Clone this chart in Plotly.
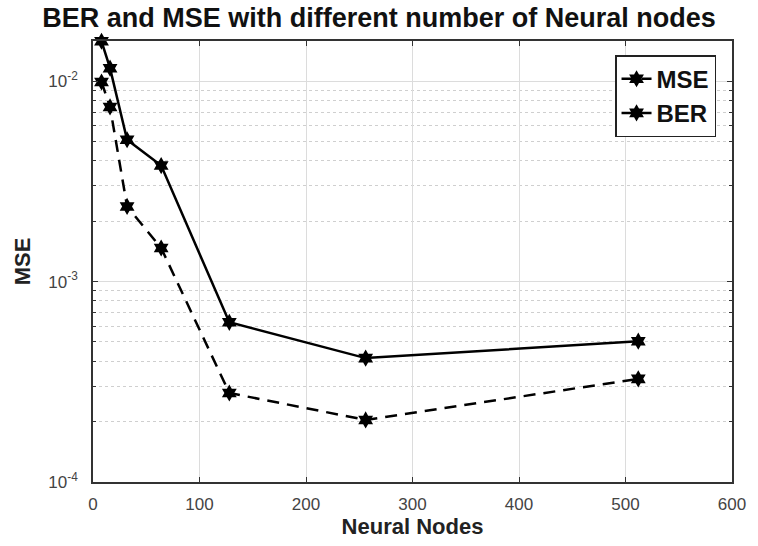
import plotly.graph_objects as go

# Number of neurons in the hidden layer
nodes = [8, 16, 32, 64, 128, 256, 512]
# Mean squared error per configuration
mse = [0.0099, 0.00743, 0.00237, 0.00147, 0.000278, 0.000204, 0.000327]
# Bit error rate per configuration
ber = [0.0158, 0.0116, 0.00510, 0.00379, 0.000626, 0.000415, 0.000504]

y_ticks = [1e-4, 1e-3, 1e-2]
y_tick_text = ["10<sup>-4</sup>", "10<sup>-3</sup>", "10<sup>-2</sup>"]
y_minor = [m * 10.0 ** e for e in (-4, -3, -2) for m in range(2, 10)]
x_ticks = [0, 100, 200, 300, 400, 500, 600]

FONT = "Liberation Sans, Arial, sans-serif"

fig = go.Figure()
fig.add_trace(go.Scatter(
    x=nodes, y=mse, name="<b>MSE</b>", mode="lines+markers",
    line=dict(color="black", width=2.5, dash="12px,8px"),
    marker=dict(symbol="hexagram", size=13, color="black"),
    cliponaxis=False,
))
fig.add_trace(go.Scatter(
    x=nodes, y=ber, name="<b>BER</b>", mode="lines+markers",
    line=dict(color="black", width=2.5),
    marker=dict(symbol="hexagram", size=13, color="black"),
    cliponaxis=False,
))

tick_font = dict(family=FONT, size=17, color="#444444")
label_font = dict(family=FONT, size=22, color="#222222")

fig.update_layout(
    width=758, height=546,
    margin=dict(l=93, r=25, t=41, b=62),
    paper_bgcolor="white", plot_bgcolor="white",
    title=dict(
        text="<b>BER and MSE with different number of Neural nodes</b>",
        x=0.5, xanchor="center", xref="container", y=0.967, yanchor="middle",
        font=dict(family=FONT, size=27, color="#111111"),
    ),
    xaxis=dict(
        range=[0, 600], tickvals=x_ticks, ticks="inside", ticklen=5,
        tickcolor="#333333", showline=True, linecolor="#333333", linewidth=1.5,
        mirror="ticks", showgrid=True, gridcolor="#dcdcdc", gridwidth=1,
        zeroline=False, tickfont=tick_font, ticklabelstandoff=6,
        title=dict(text="<b>Neural Nodes</b>", font=label_font, standoff=4),
    ),
    yaxis=dict(
        type="log", range=[-4, -1.80], tickvals=y_ticks, ticktext=y_tick_text,
        ticks="inside", ticklen=5, tickcolor="#333333",
        showline=True, linecolor="#333333", linewidth=1.5, mirror="ticks",
        showgrid=True, gridcolor="#dcdcdc", gridwidth=1, zeroline=False,
        tickfont=tick_font, ticklabelstandoff=10,
        minor=dict(tickvals=y_minor, ticks="inside", ticklen=3, tickcolor="#333333",
                   showgrid=True, gridcolor="#cfcfcf", griddash="dot", gridwidth=1),
        title=dict(text="<b>MSE</b>", font=label_font, standoff=12),
    ),
    legend=dict(
        x=0.975, y=0.968, xanchor="right", yanchor="top",
        bgcolor="white", bordercolor="#222222", borderwidth=1.5,
        font=dict(family=FONT, size=24, color="#111111"),
        tracegroupgap=0,
    ),
    showlegend=True,
)

fig.write_html("out.html")
